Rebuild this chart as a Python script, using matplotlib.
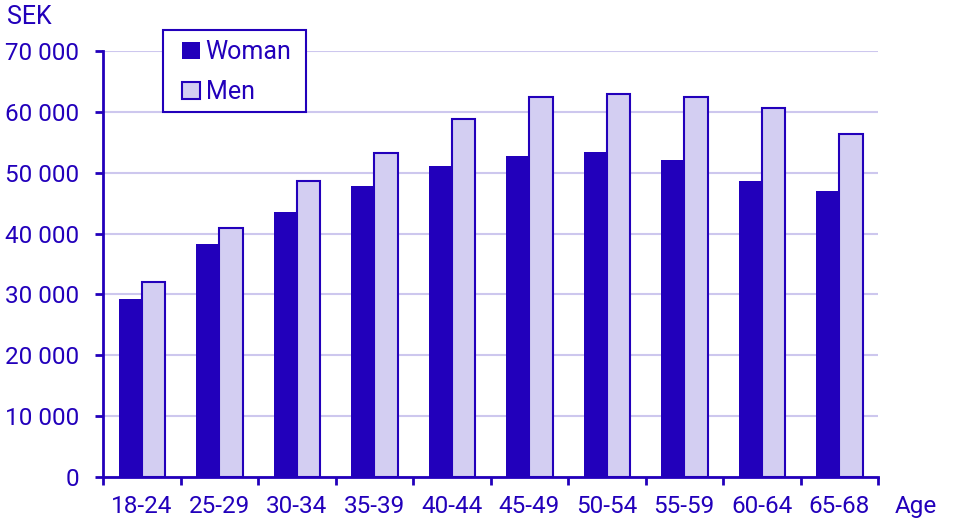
import matplotlib.pyplot as plt
from matplotlib.patches import Rectangle
import numpy as np

# data
ages = ['18-24', '25-29', '30-34', '35-39', '40-44',
        '45-49', '50-54', '55-59', '60-64', '65-68']
woman = [29300, 38300, 43500, 47800, 51100, 52700, 53400, 52100, 48600, 47000]
men = [32000, 40900, 48600, 53200, 58800, 62400, 62900, 62400, 60600, 56400]
yticks = [0, 10000, 20000, 30000, 40000, 50000, 60000, 70000]

dark = '#2200bb'
light = '#d3cef2'
grid = '#cdc7ee'

plt.rcParams['font.family'] = ['Roboto', 'DejaVu Sans']
plt.rcParams['font.size'] = 17.5

fig = plt.figure(figsize=(9.65, 5.31), dpi=100)
ax = fig.add_axes([103 / 965, 1 - 477 / 531, 775 / 965, 426 / 531])

x = np.arange(len(ages))
w = 0.3
ax.bar(x - w / 2, woman, w, color=dark, label='Woman', zorder=3)
ax.bar(x + w / 2, men, w, color=light, edgecolor=dark, linewidth=1.5,
       label='Men', zorder=3)

ax.set_xlim(-0.5, len(ages) - 0.5)
ax.set_ylim(0, 70000)
ax.set_yticks(yticks)
ax.set_yticklabels(['{:,}'.format(v).replace(',', ' ') for v in yticks])
ax.set_xticks(np.arange(-0.5, len(ages), 1.0))
ax.set_xticklabels([])
ax.set_xticks(x, minor=True)
ax.set_xticklabels(ages, minor=True)
ax.tick_params(axis='x', which='minor', length=0, pad=13, colors=dark)
ax.tick_params(axis='x', which='major', length=6, width=2, color=dark)
ax.tick_params(axis='y', length=6, width=2, color=dark, labelcolor=dark, pad=11)

ax.grid(axis='y', color=grid, linewidth=1.5, zorder=0)
for s in ['top', 'right']:
    ax.spines[s].set_visible(False)
for s in ['left', 'bottom']:
    ax.spines[s].set_color(dark)
    ax.spines[s].set_linewidth(2)

fig.text(7 / 965, 1 - 17 / 531, 'SEK', color=dark, fontsize=18, va='center')
fig.text(895 / 965, 1 - 506 / 531, 'Age', color=dark, fontsize=17.5, va='center')

# legend box drawn on its own so the padding can match
box = Rectangle((163 / 965, 1 - 112 / 531), 143 / 965, 82 / 531,
                transform=fig.transFigure, facecolor='white', edgecolor=dark,
                linewidth=1.5, zorder=4)
fig.patches.append(box)
leg = fig.legend(*ax.get_legend_handles_labels(), loc='upper left',
                 bbox_to_anchor=(182 / 965, 1 - 40 / 531),
                 borderaxespad=0, borderpad=0, frameon=False, fontsize=18,
                 handlelength=0.7, handleheight=0.7, handletextpad=0.25,
                 labelspacing=0.65, labelcolor=dark)
leg.set_zorder(5)

plt.savefig('out.png')
